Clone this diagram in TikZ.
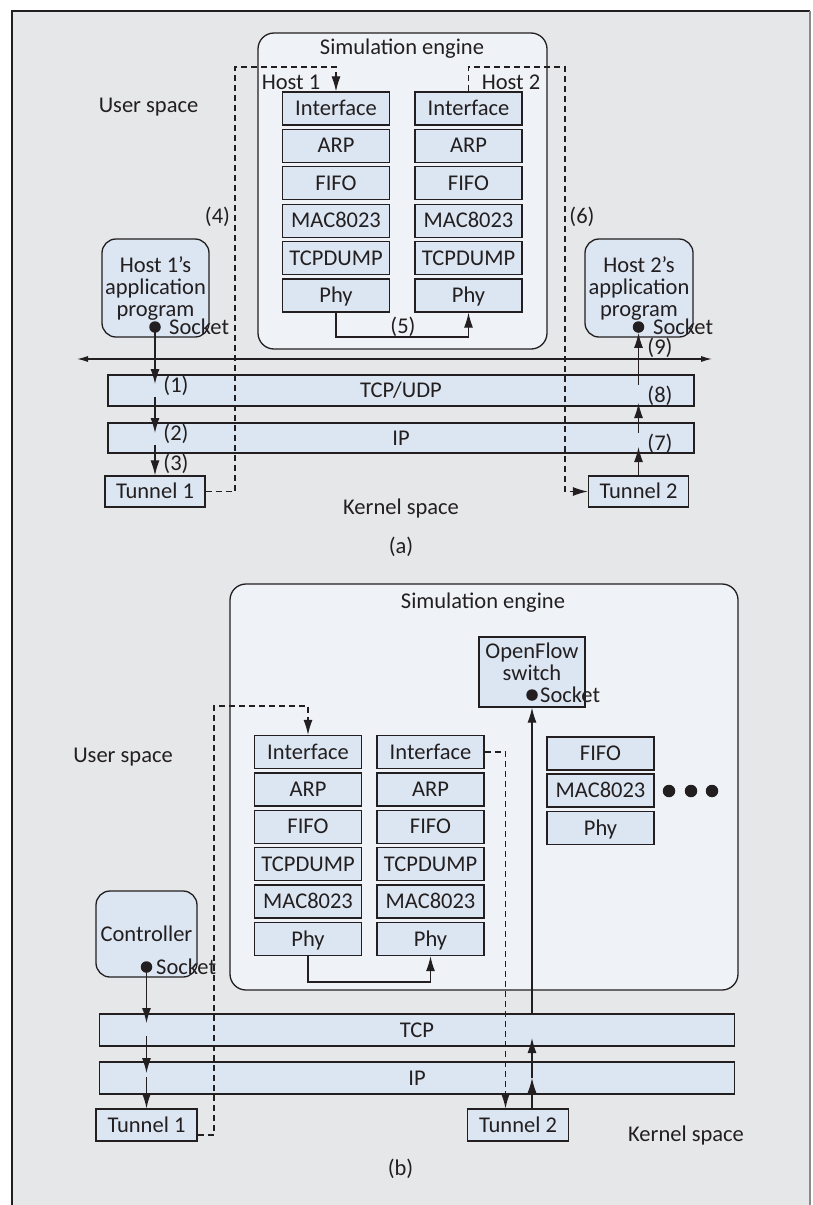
\documentclass[tikz,border=0pt]{standalone}
\usepackage{fontspec}
\setmainfont{Carlito}
\usetikzlibrary{arrows.meta}
\definecolor{bgc}{HTML}{E6E7E8}
\definecolor{engc}{HTML}{EFF3F8}
\definecolor{boxc}{HTML}{DCE6F2}
\definecolor{linec}{HTML}{231F20}
\definecolor{framer}{HTML}{8A8A8A}
\begin{document}
\begin{tikzpicture}[x=1pt,y=-1pt,
  every node/.style={font=\fontsize{22.5}{22}\selectfont, text=linec, inner sep=0pt},
  tx/.style={text height=14pt, text depth=0pt},
  layer/.style={tx, draw=linec, line width=1.3pt, fill=boxc, minimum height=33pt, minimum width=107pt},
  engine/.style={draw=linec, line width=1.3pt, fill=engc, rounded corners=16pt},
  app/.style={draw=linec, line width=1.3pt, fill=boxc, rounded corners=14pt, align=center},
  flow/.style={draw=linec, line width=1.2pt, -{Latex[length=15pt,width=9pt]}},
  plain/.style={draw=linec, line width=1.2pt},
  dashflow/.style={draw=linec, line width=1.2pt, dash pattern=on 6pt off 4pt, -{Latex[length=15pt,width=9pt]}},
  sock/.style={circle, fill=linec, minimum size=11.5pt},
  dotb/.style={circle, fill=linec, minimum size=12.5pt}
]
\useasboundingbox (0,0) rectangle (813,1205);
\fill[white] (0,0) rectangle (813,1205);
\fill[bgc] (12,11) rectangle (810,1205);
\draw[linec, line width=1.3pt] (12,1205) -- (12,11) -- (810,11);
\draw[framer, line width=1.6pt] (810,11) -- (810,1205);

% ================= panel (a) =================
\node[engine, minimum width=289pt, minimum height=316pt] (engA) at (402.5,191) {};
\node[tx] (engAt) at (402,47) {Simulation engine};
\foreach \n/\t/\yy in {if/Interface/108.5, arp/ARP/145.9, fifo/FIFO/183.3, mac/MAC8023/220.7, dump/TCPDUMP/258.1, phy/Phy/295.5} {
  \node[layer] (aL\n) at (336,\yy) {\t};
  \node[layer] (aR\n) at (468.5,\yy) {\t};
}
\node[tx] (h1) at (291,82) {Host 1};
\node[tx] (h2) at (511,82) {Host 2};
\node[tx] (usA) at (148.5,105) {User space};

\node[app, minimum width=107pt, minimum height=98pt] (appA1) at (155.5,288) {Host 1’s\\application\\program};
\node[app, minimum width=108pt, minimum height=98pt] (appA2) at (639,288) {Host 2’s\\application\\program};
\node[sock] (sA1) at (155,327) {};
\node[tx, anchor=west] (sA1t) at (169,327) {Socket};
\node[sock] (sA2) at (638.5,327) {};
\node[tx, anchor=west] (sA2t) at (653,327) {Socket};

\coordinate (uL) at (77,359);
\coordinate (uR) at (712,359);
\draw[plain, {Latex[length=11pt,width=6pt]}-{Latex[length=11pt,width=6pt]}] (uL) -- (uR);

\node[layer, minimum width=586pt, minimum height=31pt] (tcpA) at (401,390.5) {TCP/UDP};
\node[layer, minimum width=586pt, minimum height=30pt] (ipA) at (401,438) {IP};
\node[layer, minimum width=100pt, minimum height=31pt] (tun1A) at (155,491.5) {Tunnel 1};
\node[layer, minimum width=100pt, minimum height=31pt] (tun2A) at (638.5,491.5) {Tunnel 2};
\node[tx] (ksA) at (401,507) {Kernel space};
\node[tx] (capA) at (401,546) {(a)};

\node[tx] (l1) at (176,385) {(1)};
\node[tx] (l2) at (176,433) {(2)};
\node[tx] (l3) at (176,463) {(3)};
\node[tx] (l4) at (217.5,216) {(4)};
\node[tx] (l5) at (403,326) {(5)};
\node[tx] (l6) at (582,216) {(6)};
\node[tx] (l7) at (660,443) {(7)};
\node[tx] (l8) at (660,395) {(8)};
\node[tx] (l9) at (660,347) {(9)};

% arrows left column (a)
\coordinate (a1e) at (155,384);
\coordinate (a2s) at (155,397);
\coordinate (a2e) at (155,433);
\coordinate (a3s) at (155,445);
\draw[flow] (sA1.center) -- (a1e);
\draw[flow] (a2s) -- (a2e);
\draw[flow] (a3s) -- (tun1A.north);
% arrows right column (a)
\coordinate (a7e) at (638.5,447);
\coordinate (a8s) at (638.5,433);
\coordinate (a8e) at (638.5,403);
\coordinate (a9s) at (638.5,385);
\draw[flow] (tun2A.north) -- (a7e);
\draw[flow] (a8s) -- (a8e);
\draw[flow] (a9s) -- (sA2.south);

% phy link (a)
\coordinate (phyA) at (400,337);
\draw[flow] (aLphy.south) |- (phyA) -| (aRphy.south);

% dashed paths (a)
\coordinate (dA1) at (235,67);
\coordinate (dA2) at (565,67);
\draw[dashflow] (tun1A.east) -| (dA1) -| (aLif.north);
\draw[dashflow] (aRif.north) |- (dA2) |- (tun2A.west);

% ================= panel (b) =================
\node[engine, minimum width=508pt, minimum height=406pt] (engB) at (484,787) {};
\node[tx] (engBt) at (483,601) {Simulation engine};
\node[layer, minimum width=106pt, minimum height=70pt] (of) at (532,672) {};
\node[align=center] (oft) at (532,662) {OpenFlow\\switch};
\node[sock] (sOF) at (532,695) {};
\node[tx, anchor=west] (sOFt) at (540,695) {Socket};

\foreach \n/\t/\yy in {if/Interface/752, arp/ARP/789.4, fifo/FIFO/826.8, dump/TCPDUMP/864.2, mac/MAC8023/901.6, phy/Phy/939} {
  \node[layer] (bL\n) at (308,\yy) {\t};
  \node[layer] (bR\n) at (430.5,\yy) {\t};
}
\node[layer] (cfifo) at (600.5,753.5) {FIFO};
\node[layer] (cmac) at (600.5,790.5) {MAC8023};
\node[layer] (cphy) at (600.5,828) {Phy};
\node[dotb] (d1) at (669,791) {};
\node[dotb] (d2) at (691,791) {};
\node[dotb] (d3) at (712,791) {};

\node[tx] (usB) at (123,755) {User space};
\node[app, minimum width=101pt, minimum height=86pt] (ctl) at (146.5,934) {Controller};
\node[sock] (sB) at (146.5,967) {};
\node[tx, anchor=west] (sBt) at (156,967) {Socket};

\node[layer, minimum width=634.5pt, minimum height=32pt] (tcpB) at (417,1030) {TCP};
\node[layer, minimum width=634.5pt, minimum height=32pt] (ipB) at (417,1078) {IP};
\node[layer, minimum width=101pt, minimum height=32pt] (tun1B) at (146.5,1125) {Tunnel 1};
\node[layer, minimum width=100.5pt, minimum height=32pt] (tun2B) at (518,1125) {Tunnel 2};
\node[tx] (ksB) at (686,1134) {Kernel space};
\node[tx] (capB) at (400.5,1168) {(b)};

% arrows left column (b)
\coordinate (b1e) at (146.5,1023);
\coordinate (b2s) at (146.5,1036);
\coordinate (b2e) at (146.5,1073);
\coordinate (b3s) at (146.5,1077);
\draw[flow] (sB.center) -- (b1e);
\draw[flow] (b2s) -- (b2e);
\draw[flow] (b3s) -- (tun1B.north);
% arrows right column (b)
\coordinate (b4e) at (532,1078);
\coordinate (b5e) at (532,1038);
\draw[flow] (tun2B.north -| of.south) -- (b4e);
\draw[flow] (b4e) -- (b5e);
\draw[flow] (tcpB.north -| of.south) -- (of.south);

% phy link (b)
\coordinate (phyB) at (370,982);
\draw[flow] (bLphy.south) |- (phyB) -| (bRphy.south);

% dashed paths (b)
\coordinate (dB1) at (214,706);
\coordinate (dB2) at (505.5,752);
\draw[dashflow] ([yshift=-10pt]tun1B.east) -| (dB1) -| (bLif.north);
\draw[dashflow] (bRif.east) -- (dB2) -- (dB2 |- tun2B.north);
\end{tikzpicture}
\end{document}
